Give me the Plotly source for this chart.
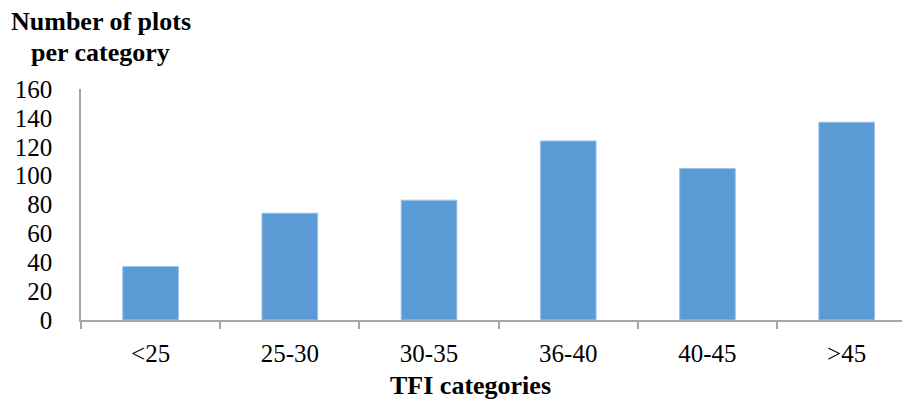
import plotly.graph_objects as go

categories = ["<25", "25-30", "30-35", "36-40", "40-45", ">45"]
values = [37, 74, 83, 124, 105, 137]
y_ticks = [0, 20, 40, 60, 80, 100, 120, 140, 160]

FONT = "Liberation Serif, Times New Roman, serif"

fig = go.Figure(go.Bar(
    x=categories, y=values,
    marker=dict(color="#5B9BD5", line=dict(color="#9DC3E6", width=1)),
    width=0.4,
))

fig.update_layout(
    width=902, height=395,
    margin=dict(l=73, r=0, t=81, b=83),
    paper_bgcolor="white", plot_bgcolor="white",
    showlegend=False,
    font=dict(family=FONT, size=25, color="black"),
    xaxis=dict(
        range=[-0.5, 5.455], automargin=False,
        showline=True, linecolor="#A6A6A6", linewidth=1.5,
        ticks="outside", tickson="boundaries", ticklen=7, tickcolor="#A6A6A6", tickwidth=1.5,
        tickfont=dict(family=FONT, size=25),
        showgrid=False,
        ticklabelstandoff=10,
    ),
    yaxis=dict(
        range=[0, 160], tickvals=y_ticks, automargin=False,
        showline=True, linecolor="#A6A6A6", linewidth=1.5,
        ticks="", showgrid=False, zeroline=False,
        tickfont=dict(family=FONT, size=25),
        ticklabelstandoff=22,
    ),
    annotations=[
        dict(
            text="<b>Number of plots</b>",
            xref="paper", yref="paper", x=0.024, y=1.294,
            xanchor="center", yanchor="middle",
            showarrow=False,
            font=dict(family=FONT, size=26, color="black"),
        ),
        dict(
            text="<b>per category</b>",
            xref="paper", yref="paper", x=0.024, y=1.160,
            xanchor="center", yanchor="middle",
            showarrow=False,
            font=dict(family=FONT, size=26, color="black"),
        ),
        dict(
            text="<b>TFI categories</b>",
            xref="paper", yref="paper", x=0.470, y=-0.2857,
            xanchor="center", yanchor="middle",
            showarrow=False,
            font=dict(family=FONT, size=26, color="black"),
        ),
    ],
)

fig.write_html("out.html")
